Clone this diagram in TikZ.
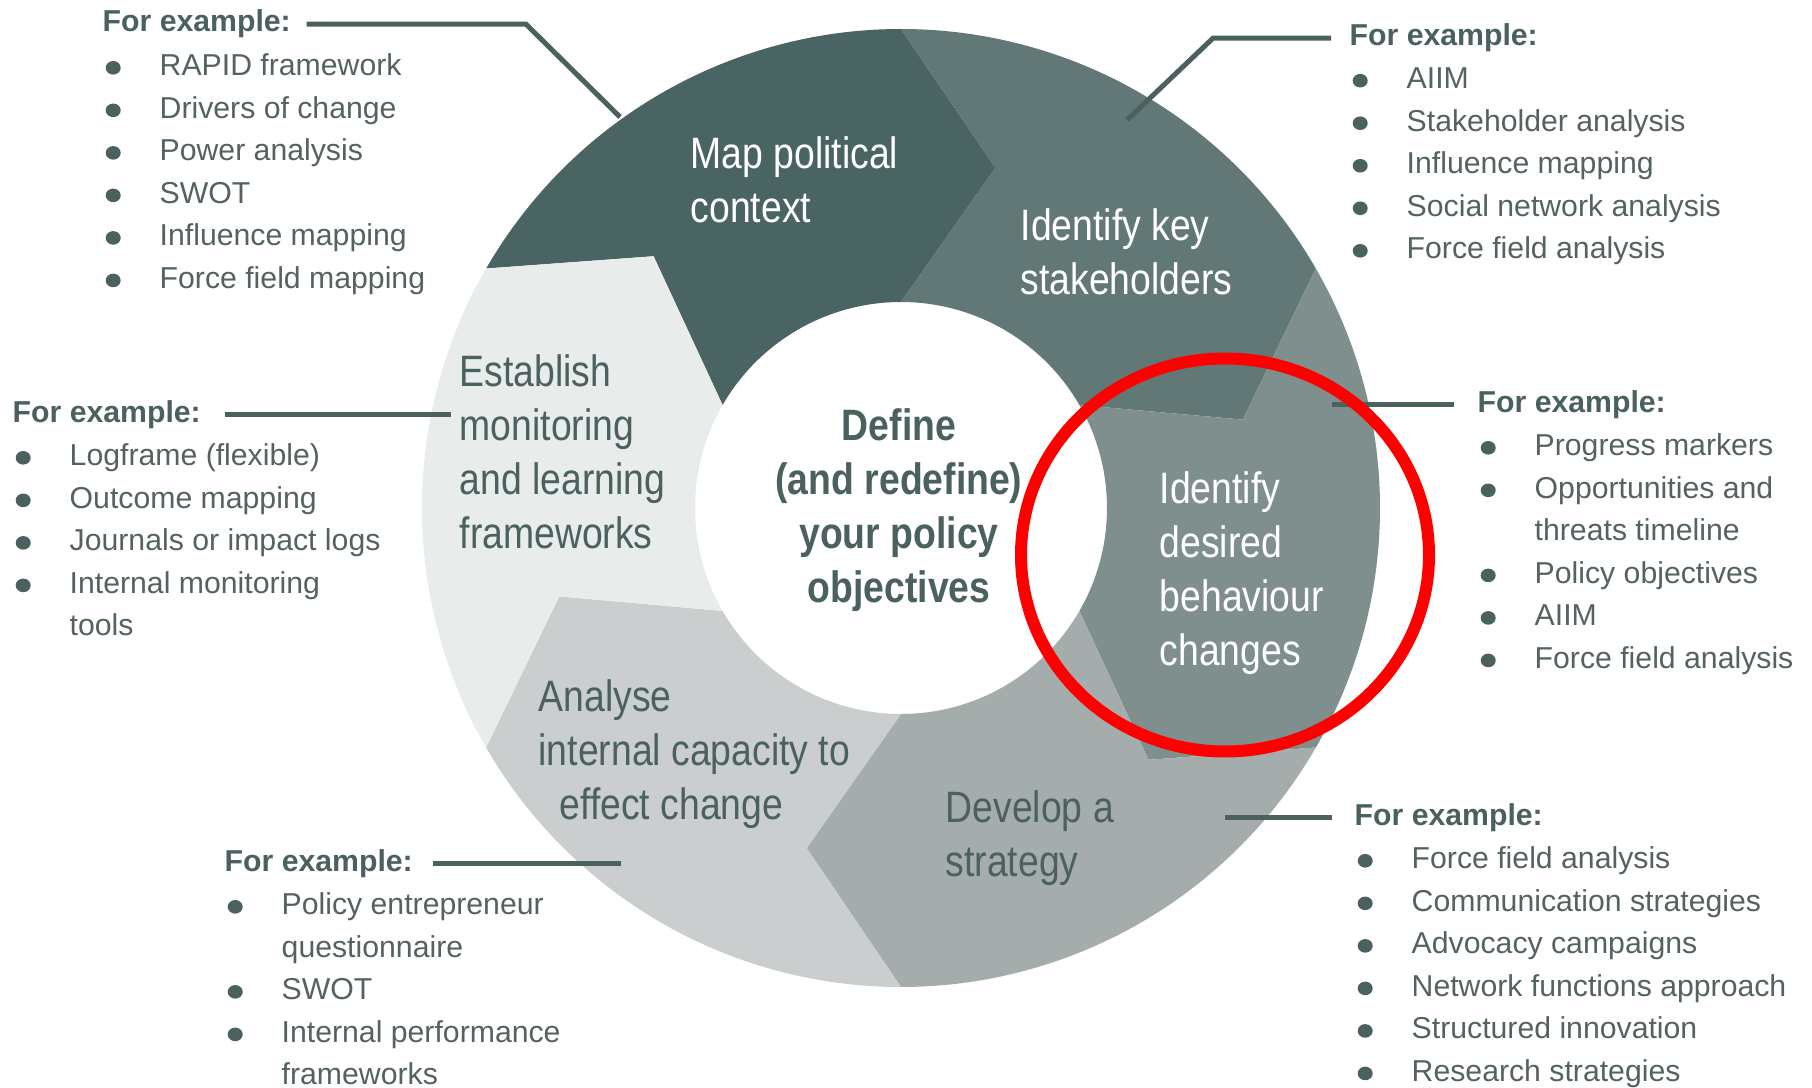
\documentclass[tikz,border=0pt]{standalone}
\usepackage{fontspec}
\setmainfont{Liberation Sans}
\newfontfamily\ringfont[FakeStretch=0.85]{Liberation Sans}
\usetikzlibrary{calc, positioning}

\definecolor{ink}{HTML}{4A615F}
\definecolor{listink}{HTML}{55635F}
\definecolor{segmap}{HTML}{496462}
\definecolor{segkey}{HTML}{627876}
\definecolor{segbeh}{HTML}{7E8F8E}
\definecolor{segstrat}{HTML}{A5ACAC}
\definecolor{segcap}{HTML}{CACECE}
\definecolor{segmon}{HTML}{E8ECEB}

\newcommand{\exbul}{\makebox[0.57cm][l]{\tikz[baseline=0pt]{\path (0,0); \fill[ink] (0.105,0.078) ellipse[x radius=0.075, y radius=0.068];}}}
\newcommand{\exgap}{\hspace*{0.57cm}}

\tikzset{
  ring/.style={align=left, anchor=north west, inner sep=0pt, font=\ringfont\fontsize{12.5}{15.45}\selectfont},
  exhead/.style={anchor=base west, inner sep=0pt, text=ink, font=\bfseries\fontsize{8.6}{12.1}\selectfont},
  exlist/.style={anchor=north west, inner sep=0pt, align=left, text=listink, font=\fontsize{8.6}{12.1}\selectfont},
  leader/.style={draw=ink, line width=0.05cm},
}

\begin{document}
\begin{tikzpicture}
  \fill[white] (0,0) rectangle (18.12,-10.87);

  \begin{scope}[shift={(9.01,-5.08)}]
    \foreach \a/\c in {150/segmap, 90/segkey, 30/segbeh, -30/segstrat, -90/segcap, -150/segmon}
      \fill[\c] (\a:4.79) arc[start angle=\a, end angle=\a-60, radius=4.79]
        -- ({\a-75.5}:3.53) -- ({\a-60}:2.06) arc[start angle=\a-60, end angle=\a, radius=2.06]
        -- ({\a-15.5}:3.53) -- cycle;
  \end{scope}

  \node[ring, text=white] (map) at (6.90,-1.355) {Map political\\context};
  \node[ring, text=white] (keys) at (10.20,-2.075) {Identify key\\stakeholders};
  \node[ring, text=white] (behav) at (11.59,-4.705) {Identify\\desired\\behaviour\\changes};
  \node[ring, text=ink] (strat) at (9.45,-7.895) {Develop a\\strategy};
  \node[ring, text=ink] (capac) at (5.38,-6.785) {Analyse\\internal capacity to\\\hspace*{0.21cm}effect change};
  \node[ring, text=ink] (monit) at (4.59,-3.535) {Establish\\monitoring\\and learning\\frameworks};
  \node[ring, align=center, anchor=north, text=ink, font=\ringfont\bfseries\fontsize{12.5}{15.45}\selectfont] (goal) at (8.99,-4.075) {Define\\(and redefine)\\your policy\\objectives};

  \node[exhead] (ex1) at (1.02,-0.32) {For example:};
  \node[exlist, below right=0.21cm and 0cm of ex1.base west] (list1) {\exbul RAPID framework\\\exbul Drivers of change\\\exbul Power analysis\\\exbul SWOT\\\exbul Influence mapping\\\exbul Force field mapping};

  \node[exhead] (ex2) at (13.49,-0.46) {For example:};
  \node[exlist, below right=0.21cm and 0cm of ex2.base west] (list2) {\exbul AIIM\\\exbul Stakeholder analysis\\\exbul Influence mapping\\\exbul Social network analysis\\\exbul Force field analysis};

  \node[exhead] (ex3) at (14.77,-4.12) {For example:};
  \node[exlist, below right=0.21cm and 0cm of ex3.base west] (list3) {\exbul Progress markers\\\exbul Opportunities and\\\exgap threats timeline\\\exbul Policy objectives\\\exbul AIIM\\\exbul Force field analysis};

  \node[exhead] (ex4) at (0.12,-4.22) {For example:};
  \node[exlist, below right=0.21cm and 0cm of ex4.base west] (list4) {\exbul Logframe (flexible)\\\exbul Outcome mapping\\\exbul Journals or impact logs\\\exbul Internal monitoring\\\exgap tools};

  \node[exhead] (ex5) at (2.24,-8.71) {For example:};
  \node[exlist, below right=0.21cm and 0cm of ex5.base west] (list5) {\exbul Policy entrepreneur\\\exgap questionnaire\\\exbul SWOT\\\exbul Internal performance\\\exgap frameworks};

  \node[exhead] (ex6) at (13.54,-8.25) {For example:};
  \node[exlist, below right=0.21cm and 0cm of ex6.base west] (list6) {\exbul Force field analysis\\\exbul Communication strategies\\\exbul Advocacy campaigns\\\exbul Network functions approach\\\exbul Structured innovation\\\exbul Research strategies};

  \coordinate (bend1) at (5.26,0);
  \coordinate (end1) at (6.20,-1.17);
  \coordinate (bend2) at (12.13,0);
  \coordinate (end2) at (11.27,-1.20);
  \coordinate (end3) at (13.32,0);
  \coordinate (end4) at (4.51,0);
  \coordinate (end5) at (6.21,0);
  \coordinate (end6) at (12.25,0);

  \draw[leader] ([xshift=1.5mm]ex1.east) -- (ex1.east -| bend1) -- (end1);
  \draw[leader] ([xshift=-1.8mm]ex2.west) -- (ex2.west -| bend2) -- (end2);
  \draw[leader] ([xshift=-2.3mm]ex3.west) -- (ex3.west -| end3);
  \draw[leader] ([xshift=2.3mm]ex4.east) -- (ex4.east -| end4);
  \draw[leader] ([xshift=1.9mm]ex5.east) -- (ex5.east -| end5);
  \draw[leader] ([xshift=-2.2mm]ex6.west) -- (ex6.west -| end6);

  \draw[red, line width=0.12cm] (12.25,-5.55) ellipse[x radius=2.04, y radius=1.965];
\end{tikzpicture}
\end{document}
